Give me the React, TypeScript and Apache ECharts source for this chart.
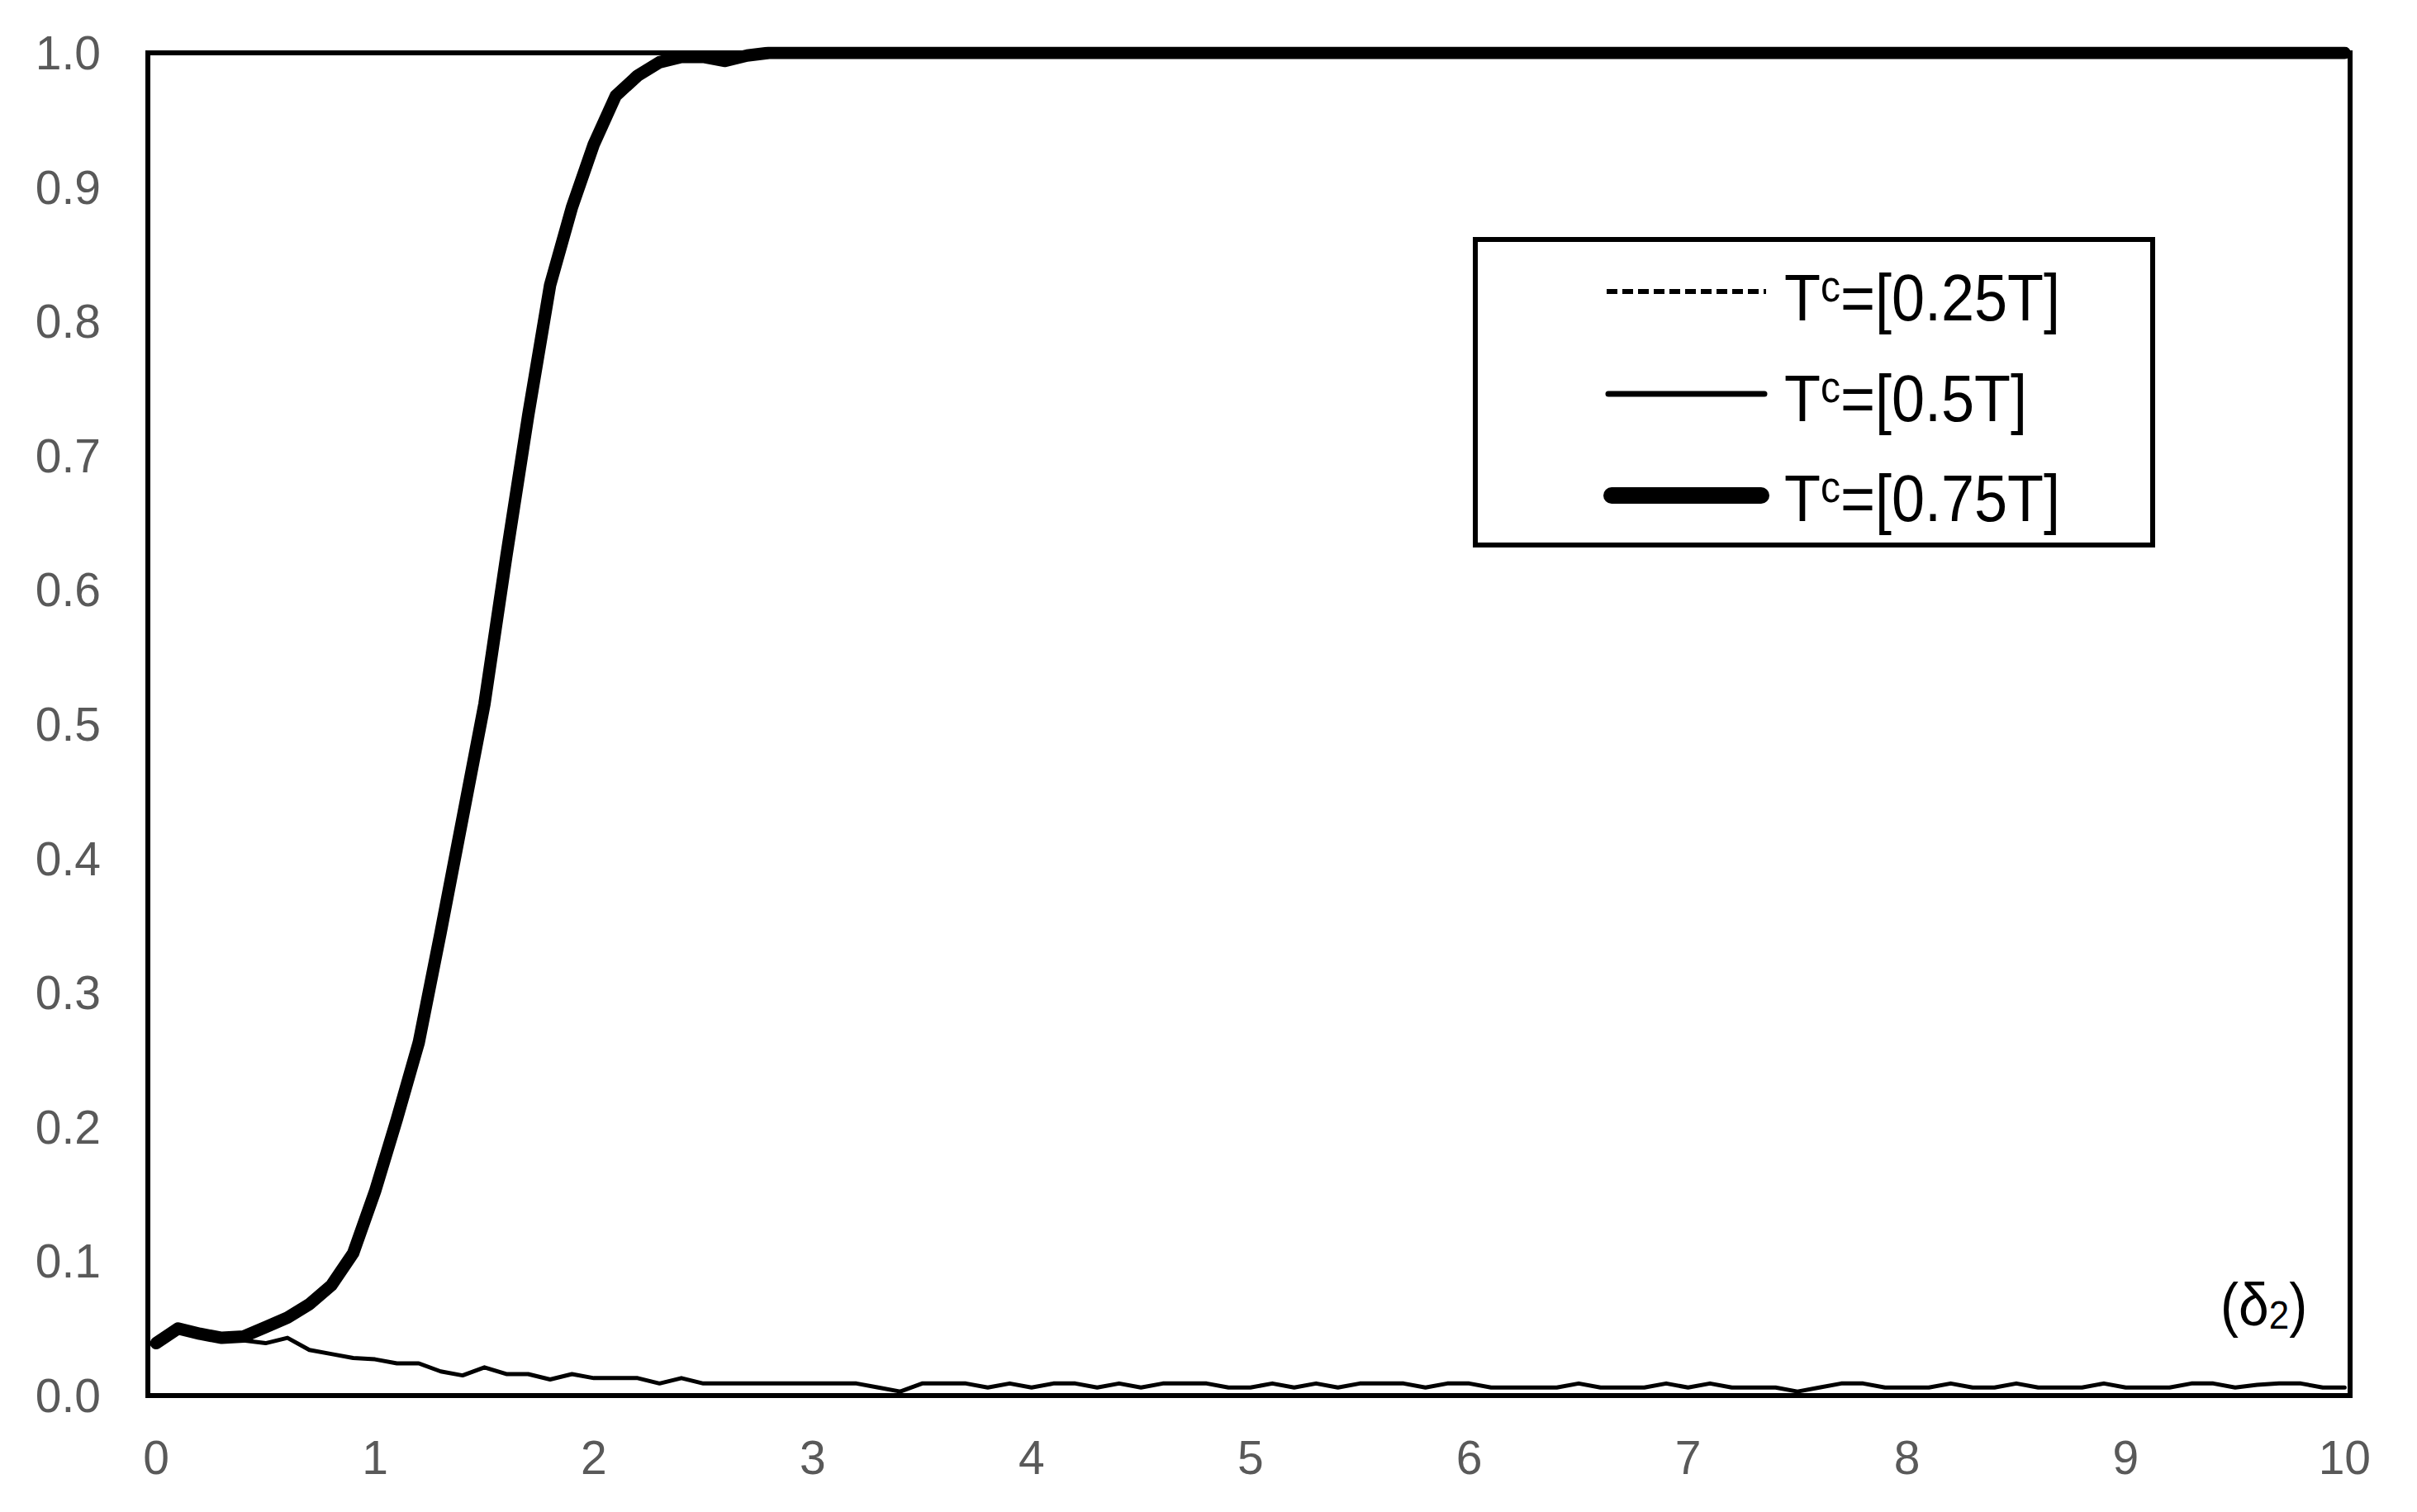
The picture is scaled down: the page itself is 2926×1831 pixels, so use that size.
import React, { useEffect, useRef } from "react";
import * as echarts from "echarts";

// x domain: delta_2 from 0 to 10 in steps of 0.1
const DELTA_START = 0;
const DELTA_STEP = 0.1;
const X_TICK_VALUES = [0, 1, 2, 3, 4, 5, 6, 7, 8, 9, 10];

const SERIES_LABELS = ["T{sup|c}=[0.25T]", "T{sup|c}=[0.5T]", "T{sup|c}=[0.75T]"];
const SERIES_NAMES = ["Tc=[0.25T]", "Tc=[0.5T]", "Tc=[0.75T]"];

// T^c = 0.25T (dashed) — coincides with the lower plot border (hidden)
const P_025 = [
  0, 0, 0, 0, 0, 0, 0, 0, 0, 0,
  0, 0, 0, 0, 0, 0, 0, 0, 0, 0,
  0, 0, 0, 0, 0, 0, 0, 0, 0, 0,
  0, 0, 0, 0, 0, 0, 0, 0, 0, 0,
  0, 0, 0, 0, 0, 0, 0, 0, 0, 0,
  0, 0, 0, 0, 0, 0, 0, 0, 0, 0,
  0, 0, 0, 0, 0, 0, 0, 0, 0, 0,
  0, 0, 0, 0, 0, 0, 0, 0, 0, 0,
  0, 0, 0, 0, 0, 0, 0, 0, 0, 0,
  0, 0, 0, 0, 0, 0, 0, 0, 0, 0,
  0,
];

// T^c = 0.5T (thin solid)
const P_05 = [
  0.039, 0.047, 0.045, 0.042, 0.041, 0.039, 0.043, 0.034, 0.031, 0.028,
  0.027, 0.024, 0.024, 0.018, 0.015, 0.021, 0.016, 0.016, 0.012, 0.016,
  0.013, 0.013, 0.013, 0.009, 0.013, 0.009, 0.009, 0.009, 0.009, 0.009,
  0.009, 0.009, 0.009, 0.006, 0.003, 0.009, 0.009, 0.009, 0.006, 0.009,
  0.006, 0.009, 0.009, 0.006, 0.009, 0.006, 0.009, 0.009, 0.009, 0.006,
  0.006, 0.009, 0.006, 0.009, 0.006, 0.009, 0.009, 0.009, 0.006, 0.009,
  0.009, 0.006, 0.006, 0.006, 0.006, 0.009, 0.006, 0.006, 0.006, 0.009,
  0.006, 0.009, 0.006, 0.006, 0.006, 0.003, 0.006, 0.009, 0.009, 0.006,
  0.006, 0.006, 0.009, 0.006, 0.006, 0.009, 0.006, 0.006, 0.006, 0.009,
  0.006, 0.006, 0.006, 0.009, 0.009, 0.006, 0.008, 0.009, 0.009, 0.006,
  0.006,
];

// T^c = 0.75T (thick solid)
const P_075 = [
  0.039, 0.050, 0.046, 0.043, 0.044, 0.051, 0.058, 0.068, 0.082, 0.106,
  0.152, 0.206, 0.263, 0.345, 0.430, 0.515, 0.625, 0.730, 0.827, 0.885,
  0.932, 0.968, 0.983, 0.993, 0.997, 0.997, 0.994, 0.998, 1, 1,
  1, 1, 1, 1, 1, 1, 1, 1, 1, 1,
  1, 1, 1, 1, 1, 1, 1, 1, 1, 1,
  1, 1, 1, 1, 1, 1, 1, 1, 1, 1,
  1, 1, 1, 1, 1, 1, 1, 1, 1, 1,
  1, 1, 1, 1, 1, 1, 1, 1, 1, 1,
  1, 1, 1, 1, 1, 1, 1, 1, 1, 1,
  1, 1, 1, 1, 1, 1, 1, 1, 1, 1,
  1,
];

const FONT = "'Liberation Sans', Arial, sans-serif";

function pairs(values: number[]) {
  return values.map((v, i) => [+(DELTA_START + i * DELTA_STEP).toFixed(1), v]);
}

export default function App() {
  const ref = useRef<HTMLDivElement>(null);

  useEffect(() => {
    const chart = echarts.init(ref.current!, null, { renderer: "svg" });

    const legendRows = [
      { y: 360, line: { lineWidth: 6, lineDash: [13, 6], lineCap: "butt" as const, x1: 1945, x2: 2138 } },
      { y: 482, line: { lineWidth: 7, lineDash: null, lineCap: "round" as const, x1: 1947, x2: 2136 } },
      { y: 603, line: { lineWidth: 20, lineDash: null, lineCap: "round" as const, x1: 1951, x2: 2132 } },
    ];
    const lineYs = [353, 477, 600];

    const legendElements: any[] = [
      {
        type: "rect",
        shape: { x: 1786, y: 290, width: 820, height: 370 },
        style: { fill: "#fff", stroke: "#000", lineWidth: 6 },
        z: 10,
      },
    ];
    legendRows.forEach((row, i) => {
      legendElements.push({
        type: "line",
        shape: { x1: row.line.x1, y1: lineYs[i], x2: row.line.x2, y2: lineYs[i] },
        style: {
          stroke: "#000",
          lineWidth: row.line.lineWidth,
          lineDash: row.line.lineDash,
          lineCap: row.line.lineCap,
        },
        z: 11,
      });
      legendElements.push({
        type: "text",
        x: 2160,
        y: row.y,
        scaleY: 1.1,
        style: {
          text: SERIES_LABELS[i],
          fontSize: 72,
          fontFamily: FONT,
          fill: "#000",
          align: "left",
          verticalAlign: "middle",
          rich: {
            sup: { fontSize: 48, fontFamily: FONT, lineHeight: 26, verticalAlign: "top", fill: "#000" },
          },
        },
        z: 11,
      });
    });

    const option: any = {
      animation: false,
      backgroundColor: "#fff",
      grid: {
        left: 179,
        right: 81,
        top: 64,
        bottom: 141,
        show: true,
        borderColor: "#000",
        borderWidth: 6,
        backgroundColor: "transparent",
      },
      xAxis: {
        type: "value",
        min: -0.038,
        max: 10.025,
        axisLine: { show: false },
        axisTick: { show: false },
        splitLine: { show: false },
        axisLabel: {
          customValues: X_TICK_VALUES,
          fontSize: 57,
          fontFamily: FONT,
          color: "#595959",
          margin: 46,
          formatter: (v: number) => String(Math.round(v)),
        },
      },
      yAxis: {
        type: "value",
        min: 0,
        max: 1,
        interval: 0.1,
        axisLine: { show: false },
        axisTick: { show: false },
        splitLine: { show: false },
        axisLabel: {
          fontSize: 57,
          fontFamily: FONT,
          color: "#595959",
          margin: 57,
          formatter: (v: number) => v.toFixed(1),
        },
      },
      series: [
        {
          name: SERIES_NAMES[0],
          type: "line",
          data: pairs(P_025),
          showSymbol: false,
          lineStyle: { color: "#000", width: 5, type: [13, 6] },
          z: 2,
        },
        {
          name: SERIES_NAMES[1],
          type: "line",
          data: pairs(P_05),
          showSymbol: false,
          lineStyle: { color: "#000", width: 5, cap: "round", join: "round" },
          z: 3,
        },
        {
          name: SERIES_NAMES[2],
          type: "line",
          data: pairs(P_075),
          showSymbol: false,
          lineStyle: { color: "#000", width: 15, cap: "round", join: "round" },
          z: 4,
        },
      ],
      graphic: [
        ...legendElements,
        {
          type: "text",
          x: 2688,
          y: 1580,
          scaleY: 1.1,
          style: {
            text: "(δ{sub|2})",
            fontSize: 66,
            fontFamily: FONT,
            fill: "#000",
            align: "left",
            verticalAlign: "middle",
            rich: {
              sub: { fontSize: 44, fontFamily: FONT, lineHeight: 28, verticalAlign: "bottom", fill: "#000" },
            },
          },
          z: 11,
        },
      ],
    };

    chart.setOption(option);
    return () => chart.dispose();
  }, []);

  return (
    <div
      ref={ref}
      style={{ position: "fixed", left: 0, top: 0, width: 2926, height: 1831, background: "#fff" }}
    />
  );
}
